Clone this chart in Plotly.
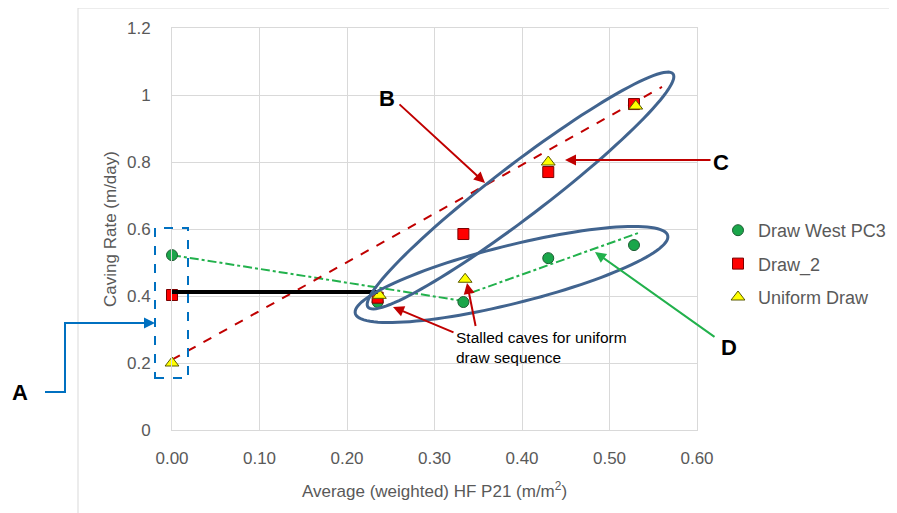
import numpy as np
import plotly.graph_objects as go

# ---------------- data ----------------
west_x = [0.000, 0.235, 0.333, 0.430, 0.528]
west_y = [0.522, 0.382, 0.382, 0.513, 0.552]

draw2_x = [0.000, 0.235, 0.333, 0.430, 0.528]
draw2_y = [0.403, 0.395, 0.585, 0.770, 0.973]

uniform_x = [0.000, 0.237, 0.335, 0.430, 0.530]
uniform_y = [0.200, 0.402, 0.450, 0.800, 0.967]

red_trend_x = [0.000, 0.560]
red_trend_y = [0.210, 1.024]
green_trend1_x = [0.000, 0.333]
green_trend1_y = [0.522, 0.385]
green_trend2_x = [0.342, 0.535]
green_trend2_y = [0.410, 0.590]
black_x = [0.000, 0.235]
black_y = [0.412, 0.412]

x_ticks = [0.0, 0.1, 0.2, 0.3, 0.4, 0.5, 0.6]
y_ticks = [0.0, 0.2, 0.4, 0.6, 0.8, 1.0, 1.2]
y_ticktext = ["0", "0.2", "0.4", "0.6", "0.8", "1", "1.2"]

# ---------------- layout helpers (screen pixel -> paper) ----------------
W, H = 897, 513
OFF = 8  # page body margin shifts the figure by 8px
L, R, T, B = 172, 697, 28, 430   # plot area in screen pixels


def px(x):
    return (x - L) / (R - L)


def py(y):
    return (B - y) / (B - T)


def ellipse_path(cx, cy, a, b, ang, n=120):
    t = np.linspace(0, 2 * np.pi, n)
    th = np.deg2rad(ang)
    ex = cx + a * np.cos(t) * np.cos(th) + b * np.sin(t) * np.sin(th)
    ey = cy - a * np.cos(t) * np.sin(th) + b * np.sin(t) * np.cos(th)
    pts = ["%s%.5f,%.5f" % ("M" if i == 0 else "L", px(x), py(y)) for i, (x, y) in enumerate(zip(ex, ey))]
    return " ".join(pts) + " Z"


GRAY = "#595959"
GRID = "#d9d9d9"
FONT = "Liberation Sans, Arial, sans-serif"
LBL = "Liberation Sans, Arial, sans-serif"
NARROW = "Liberation Sans, Arial, sans-serif"
DARKRED = "#c00000"
ELL = "#41648f"
GREEN = "#22b14c"

fig = go.Figure()

# trend lines
fig.add_trace(go.Scatter(x=green_trend1_x, y=green_trend1_y, mode="lines",
                         line=dict(color=GREEN, width=2, dash="dashdot"),
                         showlegend=False, hoverinfo="skip", cliponaxis=False))
fig.add_trace(go.Scatter(x=green_trend2_x, y=green_trend2_y, mode="lines",
                         line=dict(color=GREEN, width=2, dash="dashdot"),
                         showlegend=False, hoverinfo="skip", cliponaxis=False))
fig.add_trace(go.Scatter(x=red_trend_x, y=red_trend_y, mode="lines",
                         line=dict(color=DARKRED, width=2, dash="dash"),
                         showlegend=False, hoverinfo="skip", cliponaxis=False))

# markers
fig.add_trace(go.Scatter(x=west_x, y=west_y, mode="markers", name="Draw West PC3",
                         legendgroup="a",
                         marker=dict(symbol="circle", size=11, color="#1aa64a",
                                     line=dict(color="#1d5e33", width=1)),
                         cliponaxis=False))
fig.add_trace(go.Scatter(x=draw2_x, y=draw2_y, mode="markers", name="Draw_2",
                         legendgroup="b",
                         marker=dict(symbol="square", size=11, color="#ff0000",
                                     line=dict(color="#7a0000", width=1)),
                         cliponaxis=False))
fig.add_trace(go.Scatter(x=uniform_x, y=uniform_y, mode="markers", name="Uniform Draw",
                         legendgroup="c",
                         marker=dict(symbol="triangle-up", size=12, color="#ffff00",
                                     line=dict(color="#5a5a00", width=1)),
                         cliponaxis=False))

# black bar
fig.add_trace(go.Scatter(x=black_x, y=black_y, mode="lines",
                         line=dict(color="black", width=4),
                         showlegend=False, hoverinfo="skip", cliponaxis=False))

shapes = [
    # chart frame
    dict(type="line", xref="paper", yref="paper", x0=px(78), y0=py(8), x1=px(W + 10), y1=py(8),
         line=dict(color=GRID, width=1)),
    dict(type="line", xref="paper", yref="paper", x0=px(78), y0=py(8), x1=px(78), y1=py(H + 10),
         line=dict(color=GRID, width=1)),
    # ellipses
    dict(type="path", xref="paper", yref="paper", path=ellipse_path(520.5, 190.5, 192, 26, 37.4),
         line=dict(color=ELL, width=3)),
    dict(type="path", xref="paper", yref="paper", path=ellipse_path(511.5, 274.5, 161, 29, 14.0),
         line=dict(color=ELL, width=3)),
    # dashed box A
    dict(type="rect", xref="paper", yref="paper", x0=px(155), y0=py(378), x1=px(188), y1=py(228),
         line=dict(color="#0070c0", width=2, dash="dash")),
    # elbow connector A
    dict(type="path", xref="paper", yref="paper",
         path="M%.5f,%.5f L%.5f,%.5f L%.5f,%.5f L%.5f,%.5f" % (
             px(45), py(392), px(65), py(392), px(65), py(323), px(145), py(323)),
         line=dict(color="#0070c0", width=2)),
]

annotations = []


def arrow(tip, tail, color, width=2):
    annotations.append(dict(xref="paper", yref="paper", x=px(tip[0]), y=py(tip[1]),
                            ax=tail[0] - tip[0], ay=tail[1] - tip[1], text=" ",
                            showarrow=True, arrowhead=2, arrowsize=1.1, arrowwidth=width,
                            arrowcolor=color, standoff=0, startstandoff=0,
                            font=dict(size=1)))


def label(txt, pos, size=22):
    annotations.append(dict(xref="paper", yref="paper", x=px(pos[0]), y=py(pos[1]),
                            text="<b>%s</b>" % txt, showarrow=False,
                            xanchor="center", yanchor="middle",
                            font=dict(family=LBL, size=size, color="black")))


arrow((155, 323), (140, 323), "#0070c0")
arrow((485, 183), (398, 103), DARKRED)
arrow((565, 160), (712, 160), DARKRED)
arrow((595, 252), (716, 338), GREEN)
arrow((393, 307), (455, 333), DARKRED)
arrow((467, 283), (476, 328), DARKRED)

label("A", (20, 392))
label("B", (387, 98))
label("C", (721, 162))
label("D", (729, 347))

annotations.append(dict(xref="paper", yref="paper", x=px(454), y=py(327),
                        text="Stalled caves for uniform<br>draw sequence", showarrow=False,
                        xanchor="left", yanchor="top", align="left",
                        font=dict(family=NARROW, size=15.5, color="black")))

fig.update_layout(
    width=W, height=H,
    margin=dict(l=L - OFF, r=W - (R - OFF), t=T - OFF, b=H - (B - OFF), pad=0),
    paper_bgcolor="white", plot_bgcolor="white",
    font=dict(family=FONT, color=GRAY, size=16),
    showlegend=True,
    legend=dict(x=px(718), y=py(264), xanchor="left", yanchor="middle",
                font=dict(family=FONT, size=18, color=GRAY),
                tracegroupgap=7, itemwidth=30, bgcolor="rgba(0,0,0,0)"),
    xaxis=dict(range=[0, 0.6], tickvals=x_ticks, tickformat=".2f",
               showgrid=True, gridcolor=GRID, gridwidth=1,
               showline=True, linecolor=GRID, mirror=True, zeroline=False,
               ticks="", ticklabelstandoff=13, tickfont=dict(size=17, color=GRAY),
               title=dict(text="Average (weighted) HF P21 (m/m<sup>2</sup>)",
                          font=dict(size=17, color=GRAY), standoff=17)),
    yaxis=dict(range=[0, 1.2], tickvals=y_ticks, ticktext=y_ticktext,
               showgrid=True, gridcolor=GRID, gridwidth=1,
               showline=True, linecolor=GRID, mirror=True, zeroline=False,
               ticks="", ticklabelstandoff=17, tickfont=dict(size=17, color=GRAY),
               title=dict(text="Caving Rate (m/day)", font=dict(size=17, color=GRAY), standoff=6)),
    shapes=shapes,
    annotations=annotations,
)

fig.write_html("out.html")
